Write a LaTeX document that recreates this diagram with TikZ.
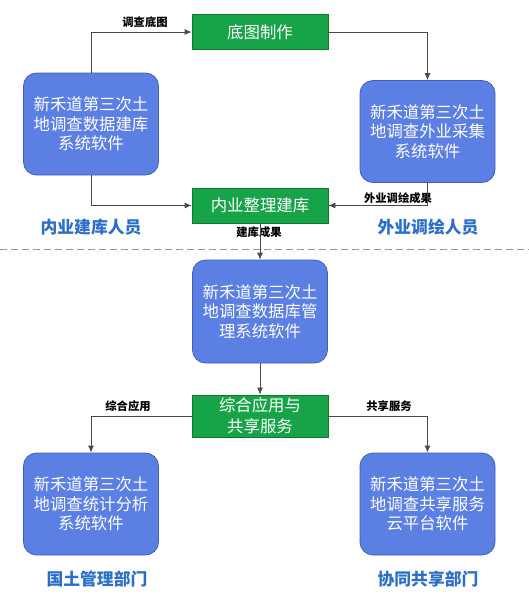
\documentclass[tikz,border=0pt]{standalone}
\usepackage{fontspec}
\setmainfont{Noto Sans CJK SC}
\newfontfamily\cjk{Noto Sans CJK SC}
\usetikzlibrary{arrows.meta,calc}
\definecolor{boxblue}{HTML}{5B7FE2}
\definecolor{boxblueline}{HTML}{3E5FC0}
\definecolor{boxgreen}{HTML}{17A348}
\definecolor{boxgreenline}{HTML}{0D7A30}
\definecolor{labelblue}{HTML}{2C6FC8}
\definecolor{conn}{HTML}{4A4A4A}
\tikzset{
  x=1pt, y=-1pt,
  softbox/.style={draw=boxblueline, line width=0.8pt, fill=boxblue, rounded corners=13pt,
    minimum width=135pt, minimum height=102pt, inner sep=0pt, align=center,
    text=white, font=\cjk\fontsize{16.4}{19.5}\selectfont},
  stepbox/.style={draw=boxgreenline, line width=0.8pt, fill=boxgreen,
    minimum width=136pt, minimum height=35pt, inner sep=0pt, align=center,
    text=white, font=\cjk\fontsize{16.4}{21}\selectfont},
  edgelabel/.style={font=\cjk\bfseries\fontsize{11.3}{12}\selectfont, text=black, inner sep=0pt},
  rolelabel/.style={font=\cjk\bfseries\fontsize{16.8}{18}\selectfont, text=labelblue, inner sep=0pt},
  conn/.style={draw=conn, line width=0.8pt, -{Latex[length=7pt,width=6pt]}},
}
\begin{document}
\begin{tikzpicture}
\useasboundingbox (0,0) rectangle (529,595);
\fill[white] (0,0) rectangle (529,595);

% boxes
\node[stepbox] (zt) at (260,32) {底图制作};
\node[stepbox] (nb) at (260,205.5) {内业整理建库};
\node[softbox] (L1) at (91,124) {新禾道第三次土\\地调查数据建库\\系统软件};
\node[softbox] (R1) at (427.5,131.5) {新禾道第三次土\\地调查外业采集\\系统软件};
\node[softbox, minimum height=103pt] (M) at (260,311.5) {新禾道第三次土\\地调查数据库管\\理系统软件};
\node[stepbox, minimum height=42pt] (zh) at (260,416) {综合应用与\\共享服务};
\node[softbox] (L2) at (91,504) {新禾道第三次土\\地调查统计分析\\系统软件};
\node[softbox] (R2) at (427.5,504) {新禾道第三次土\\地调查共享服务\\云平台软件};

% role labels
\node[rolelabel] (r1) at (91,227) {内业建库人员};
\node[rolelabel] (r2) at (428,227) {外业调绘人员};
\node[rolelabel] (r3) at (97,579) {国土管理部门};
\node[rolelabel] (r4) at (428,579) {协同共享部门};

% edge labels
\node[edgelabel] (e1) at (145,22) {调查底图};
\node[edgelabel] (e2) at (398,198) {外业调绘成果};
\node[edgelabel] (e3) at (259,232) {建库成果};
\node[edgelabel] (e4) at (128,406) {综合应用};
\node[edgelabel] (e5) at (389,406) {共享服务};

% dashed separator
\coordinate (d1) at (0,249);
\coordinate (d2) at (529,249);
\draw[draw=gray!80, line width=1pt, dash pattern=on 7pt off 4pt] (d1) -- (d2);

% connectors
\draw[conn] (L1.north) |- (zt.west);
\draw[conn] (zt.east) -| (R1.north);
\draw[conn] (L1.south) |- (nb.west);
\draw[conn] (R1.south) |- (nb.east);
\draw[conn] (nb.south) -- (M.north);
\draw[conn] (M.south) -- (zh.north);
\draw[conn] (zh.west) -| (L2.north);
\draw[conn] (zh.east) -| (R2.north);
\end{tikzpicture}
\end{document}
